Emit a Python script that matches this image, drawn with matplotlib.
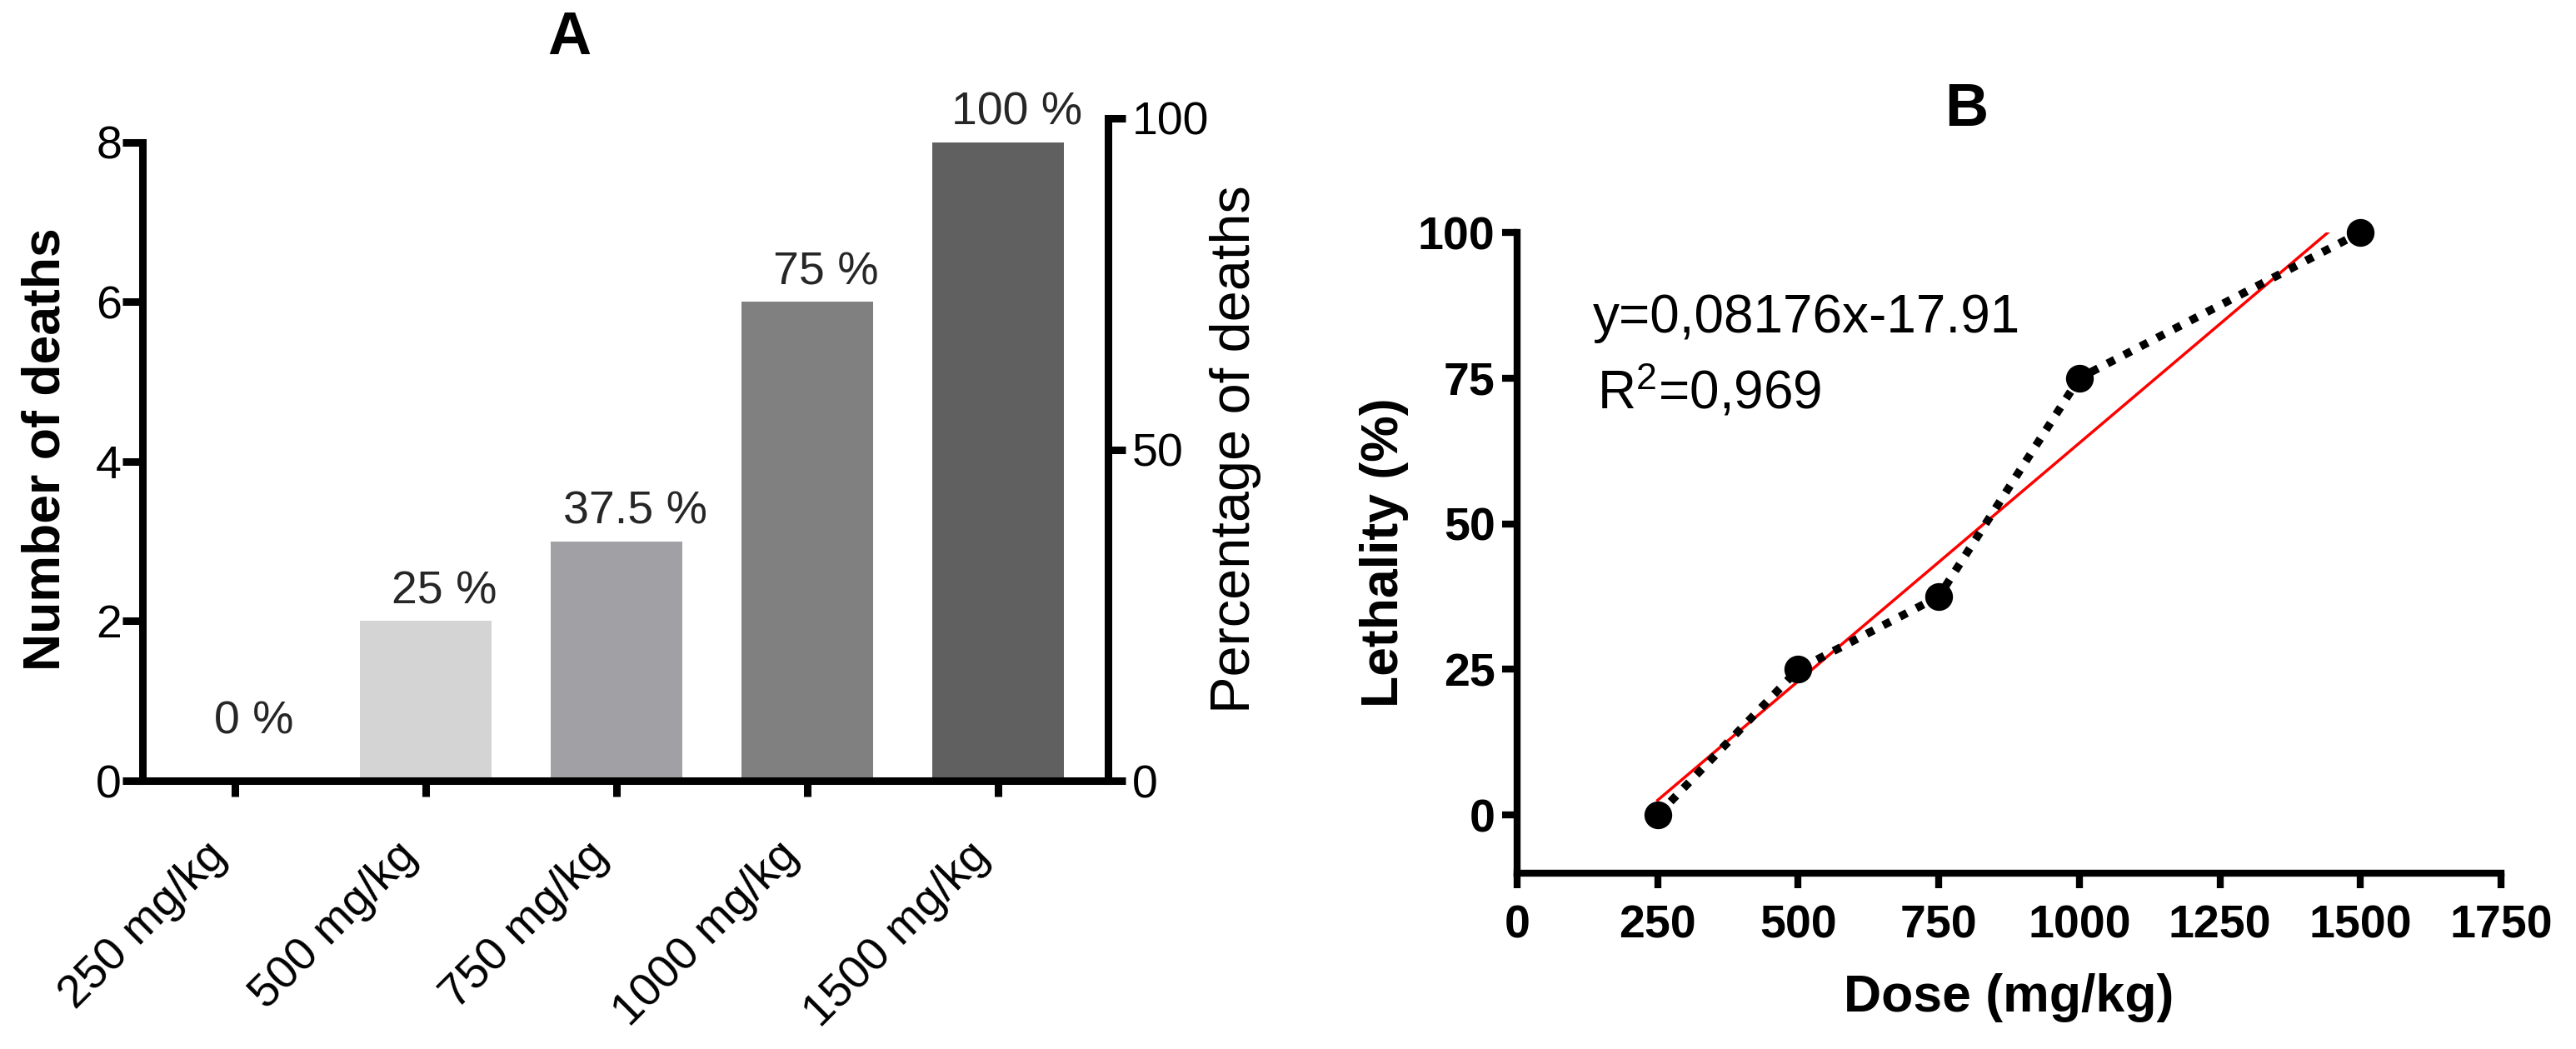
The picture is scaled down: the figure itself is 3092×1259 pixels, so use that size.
import matplotlib
matplotlib.use("Agg")
import matplotlib.pyplot as plt
import matplotlib.transforms as mtransforms
from matplotlib import font_manager
import numpy as np

# panel A data
DOSE_LABELS = ["250 mg/kg", "500 mg/kg", "750 mg/kg", "1000 mg/kg", "1500 mg/kg"]
DEATHS = [0, 2, 3, 6, 8]
PCT_LABELS = ["0 %", "25 %", "37.5 %", "75 %", "100 %"]
BAR_COLORS = ["#d4d4d4", "#d4d4d4", "#a1a1a5", "#808080", "#606060"]

# panel B data
DOSE = [250, 500, 750, 1000, 1500]
LETHALITY = [0, 25, 37.5, 75, 100]
SLOPE = 0.08176
INTERCEPT = -17.91
EQ_TEXT = "y=0,08176x-17.91"
R2_TEXT = "=0,969"

W, H = 3092, 1259
DPI = 100

names = {f.name for f in font_manager.fontManager.ttflist}
NARROW = "Liberation Sans Narrow" if "Liberation Sans Narrow" in names else "Liberation Sans"
REG = "Liberation Sans"
TICK_FS = 43 if NARROW != REG else 40

plt.rcParams["font.family"] = [REG, "DejaVu Sans"]
plt.rcParams["mathtext.fontset"] = "custom"
plt.rcParams["mathtext.rm"] = REG
plt.rcParams["mathtext.it"] = REG

fig = plt.figure(figsize=(W / DPI, H / DPI), dpi=DPI)


def px_axes(left, top, right, bottom):
    return fig.add_axes([left / W, 1 - bottom / H, (right - left) / W, (bottom - top) / H])


# ---------------- panel A ----------------
ax = px_axes(171, 142, 1330, 937)
x = np.arange(len(DEATHS))
ax.bar(x, DEATHS, width=0.69, color=BAR_COLORS, zorder=2)
ax.set_xlim(-0.485, 4.576)
ax.set_ylim(0, 8.3)
ax.set_yticks([0, 2, 4, 6, 8])
ax.set_xticks(x)
ax.set_xticklabels(DOSE_LABELS, rotation=45, ha="right", fontfamily=NARROW, fontsize=TICK_FS)
for lab in ax.get_xticklabels():
    lab.set_transform(lab.get_transform() + mtransforms.ScaledTranslation(16 / DPI, 0, fig.dpi_scale_trans))
for lab in ax.get_yticklabels():
    lab.set_fontfamily(NARROW)
    lab.set_fontsize(TICK_FS)
for side in ("top", "right"):
    ax.spines[side].set_visible(False)
for side in ("left", "bottom"):
    ax.spines[side].set_linewidth(6.5)
ax.spines["left"].set_bounds(0, 8)
ax.tick_params(axis="y", length=17, width=6.5, pad=1)
ax.tick_params(axis="x", length=14, width=6.5, pad=32)
ax.set_ylabel("Number of deaths", fontsize=45, fontweight="bold", labelpad=22)

for xi, val, txt in zip(x, DEATHS, PCT_LABELS):
    off = 15 if val > 0 else 41
    ax.annotate(txt, xy=(xi, val), xytext=(16, off), textcoords="offset points",
                ha="center", va="baseline", fontsize=TICK_FS, fontfamily=NARROW,
                color="#262626", zorder=3)

axr = ax.twinx()
axr.set_ylim(0, 100)
axr.set_yticks([0, 50, 100])
for side in ("top", "left", "bottom"):
    axr.spines[side].set_visible(False)
axr.spines["right"].set_linewidth(6.5)
axr.tick_params(axis="y", length=15, width=6.5, pad=6)
for lab in axr.get_yticklabels():
    lab.set_fontfamily(NARROW)
    lab.set_fontsize(TICK_FS)
axr.set_ylabel("Percentage of deaths", fontsize=48, labelpad=0)

fig.text(683 / W, 1 - 46 / H, "A", ha="center", va="center", fontsize=52, fontweight="bold")

# ---------------- panel B ----------------
bx = px_axes(1821, 279, 3002, 1048)
bx.set_xlim(0, 1750)
bx.set_ylim(-10, 100)
bx.set_xticks(np.arange(0, 1751, 250))
bx.set_yticks([0, 25, 50, 75, 100])
for side in ("top", "right"):
    bx.spines[side].set_visible(False)
for side in ("left", "bottom"):
    bx.spines[side].set_linewidth(6)
bx.tick_params(length=13, width=6)
bx.tick_params(axis="x", pad=14)
bx.tick_params(axis="y", pad=6)
for lab in bx.get_xticklabels() + bx.get_yticklabels():
    lab.set_fontfamily(NARROW)
    lab.set_fontweight("bold")
    lab.set_fontsize(TICK_FS)

x_end = (max(LETHALITY) - INTERCEPT) / SLOPE
fit_x = np.array([min(DOSE), x_end])
bx.plot(fit_x, SLOPE * fit_x + INTERCEPT, color="red", linewidth=2.5, zorder=2)
bx.plot(DOSE, LETHALITY, color="black", linestyle=(0, (1, 1.3)), linewidth=7,
        dash_capstyle="butt", zorder=3)
bx.plot(DOSE, LETHALITY, linestyle="none", marker="o", markersize=23,
        color="black", zorder=4, clip_on=False)

bx.text(135, 82.8, EQ_TEXT, fontsize=46, va="baseline", ha="left")
bx.text(142, 69.8, "R$^{2}$" + R2_TEXT, fontsize=46, va="baseline", ha="left")

bx.set_xlabel("Dose (mg/kg)", fontsize=45, fontweight="bold", labelpad=22)
bx.set_ylabel("Lethality (%)", fontsize=45, fontweight="bold", labelpad=8)

fig.text(2360 / W, 1 - 132 / H, "B", ha="center", va="center", fontsize=52, fontweight="bold")

fig.savefig("out.png", dpi=DPI, facecolor="white")
